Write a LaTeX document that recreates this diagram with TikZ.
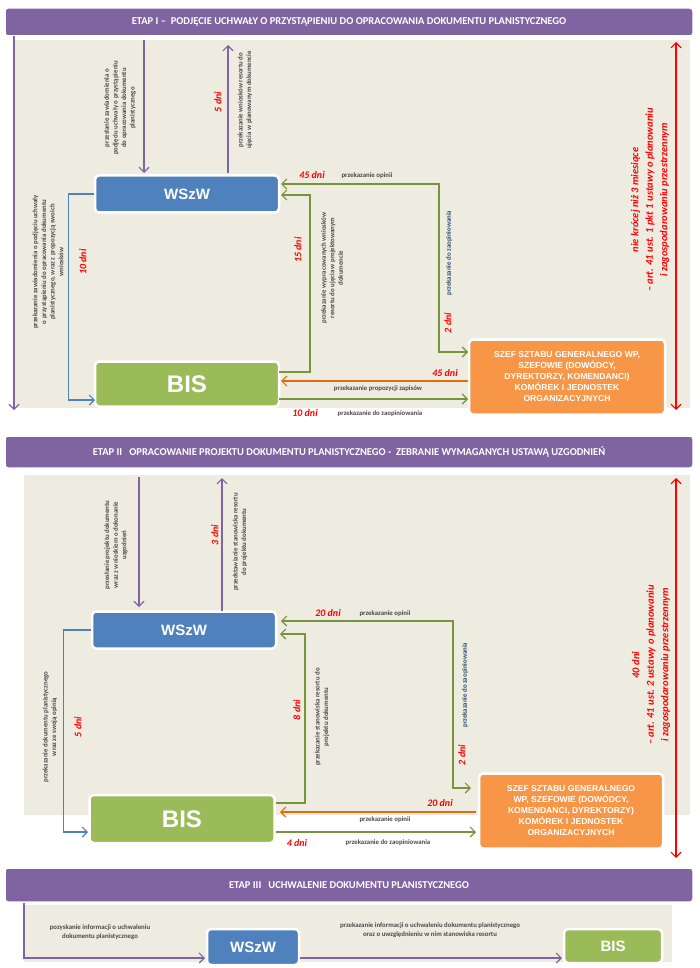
\documentclass[tikz,border=0pt]{standalone}
\usepackage{fontspec}
\setmainfont{Carlito}
\newfontfamily\arialf{Liberation Sans}
\usetikzlibrary{arrows.meta}
\definecolor{purp}{HTML}{8064A2}
\definecolor{blu}{HTML}{4F81BD}
\definecolor{grn}{HTML}{9BBB59}
\definecolor{agrn}{HTML}{77933C}
\definecolor{org}{HTML}{F79646}
\definecolor{aorg}{HTML}{E36C09}
\definecolor{bg}{HTML}{EEEBE0}
\definecolor{txt}{HTML}{4A4A4A}
\tikzset{
 banner/.style={fill=purp,draw=white,line width=1.5pt,rounded corners=3pt,text=white,font=\bfseries\fontsize{10.5}{12}\selectfont,inner sep=0pt},
 boxn/.style={draw=white,line width=2.5pt,rounded corners=4pt,text=white,font=\arialf\bfseries,inner sep=0pt},
 lbl/.style={text=txt,font=\bfseries\fontsize{6.8}{8.6}\selectfont,align=center,inner sep=1pt},
 days/.style={text=red,font=\bfseries\itshape\fontsize{10}{11}\selectfont,inner sep=1pt},
 redt/.style={text=red,font=\bfseries\itshape\fontsize{10.5}{14.5}\selectfont,align=center,rotate=90},
 arr/.style={-{Straight Barb[length=5pt,width=10pt]},line width=1.1pt},
 darr/.style={{Straight Barb[length=5pt,width=10pt]}-{Straight Barb[length=5pt,width=10pt]},line width=1.1pt},
 wbox/.style={boxn,fill=blu,font=\arialf\bfseries\fontsize{15}{16}\selectfont},
 bbox/.style={boxn,fill=grn,font=\arialf\bfseries\fontsize{24}{26}\selectfont},
 obox/.style={boxn,fill=org,align=center,font=\arialf\bfseries\fontsize{8.6}{11}\selectfont},
}
\begin{document}
\begin{tikzpicture}[x=1pt,y=-1pt]
\useasboundingbox (0,0) rectangle (700,968);
\fill[white] (0,0) rectangle (700,968);
% panels
\fill[bg] (14,40) rectangle (690,408);
\fill[bg] (24,475) rectangle (690,815);
\fill[bg] (24,905) rectangle (672,962);
% banners
\node[banner,minimum width=688,minimum height=28] (b1) at (349,22) {ETAP I –\ \ PODJĘCIE UCHWAŁY O PRZYSTĄPIENIU DO OPRACOWANIA DOKUMENTU PLANISTYCZNEGO};
\node[banner,minimum width=688,minimum height=32] (b2) at (349,452) {ETAP II\ \ \ OPRACOWANIE PROJEKTU DOKUMENTU PLANISTYCZNEGO -\ \ ZEBRANIE WYMAGANYCH USTAWĄ UZGODNIEŃ};
\node[banner,minimum width=688,minimum height=34] (b3) at (349,885) {ETAP III\ \ \ UCHWALENIE DOKUMENTU PLANISTYCZNEGO};
% ---------- stage I
\node[wbox,minimum width=184,minimum height=37] (w1) at (187,194) {WSzW};
\node[bbox,minimum width=184,minimum height=45] (s1) at (187,384) {BIS};
\node[obox,minimum width=196,minimum height=75] (o1) at (567,377) {SZEF SZTABU GENERALNEGO WP,\\SZEFOWIE (DOWÓDCY,\\DYREKTORZY, KOMENDANCI)\\KOMÓREK I JEDNOSTEK\\ORGANIZACYJNYCH};
\coordinate (t1) at (14,36); \coordinate (t1e) at (14,410);
\draw[arr,purp] (t1) -- (t1e);
\coordinate (pa) at (144,40); \coordinate (pb) at (228,45);
\draw[arr,purp] (pa) -- (144,173);
\draw[arr,purp] (228,173) -- (pb);
\draw[arr,blu] (w1.west) -- ++(-25,0) |- (95,400);
\draw[darr,agrn] (281,184) -- (439,184) |- (468,352);
\draw[arr,agrn] (279,372) -- (310,372) |- (281,195);
\draw[arr,aorg] (468,381) -- (281,381);
\draw[arr,agrn] (279,399) -- (468,399);
\draw[darr,red] (676,42) -- (676,410);
% labels I
\node[lbl,rotate=90] at (120,108) {przesłanie zawiadomienia o\\podjęciu uchwały o przystąpieniu\\do opracowania dokumentu\\planistycznego};
\node[days,rotate=90] at (218,102) {5 dni};
\node[lbl,rotate=90] at (245,100) {przekazanie wniosków resortu do\\ujęcia w planowanym dokumencie};
\node[lbl,rotate=90] at (48,262) {przekazanie zawiadomienia o podjęciu uchwały\\o przystąpieniu do opracowania dokumentu\\planistycznego, wraz z propozycją swoich\\wniosków};
\node[days,rotate=90] at (83,262) {10 dni};
\node[days,rotate=90] at (298,250) {15 dni};
\node[lbl,rotate=90] at (332,268) {przekazanie wypracowanych wniosków\\resortu do ujęcia w projektowanym\\dokumencie};
\node[days,rotate=90] at (448,323) {2 dni};
\node[lbl,rotate=90,text=blu!60!black] at (449,253) {przekazanie do zaopiniowania};
\node[days] at (312,175) {45 dni};
\node[lbl] at (367,176) {przekazanie opinii};
\node[days] at (445,373) {45 dni};
\node[lbl] at (378,389) {przekazanie propozycji zapisów};
\node[days] at (305,413) {10 dni};
\node[lbl] at (380,414) {przekazanie do zaopiniowania};
\node[redt] at (650,200) {nie krócej niż 3 miesiące\\– art. 41 ust. 1 pkt 1 ustawy o planowaniu\\i zagospodarowaniu przestrzennym};
% ---------- stage II
\node[wbox,minimum width=184,minimum height=37] (w2) at (184,630) {WSzW};
\node[bbox,minimum width=185,minimum height=48] (s2) at (182,819) {BIS};
\node[obox,minimum width=184,minimum height=75] (o2) at (571,811) {SZEF SZTABU GENERALNEGO\\WP, SZEFOWIE (DOWÓDCY,\\KOMENDANCI, DYREKTORZY)\\KOMÓREK I JEDNOSTEK\\ORGANIZACYJNYCH};
\draw[arr,purp] (139,477) -- (139,607);
\coordinate (pc) at (222,478);
\draw[arr,purp] (222,611) -- (pc);
\draw[arr,blu] (w2.west) -- ++(-27,0) |- (88,832);
\draw[darr,agrn] (281,621) -- (453,621) |- (471,788);
\draw[arr,agrn] (276,803) -- (305,803) |- (280,634);
\draw[arr,aorg] (476,812) -- (280,812);
\draw[arr,agrn] (276,832) -- (476,832);
\draw[darr,red] (676,478) -- (676,858);
\node[lbl,rotate=90] at (116,545) {przesłanie projektu dokumentu\\wraz z wnioskiem o dokonanie\\uzgodnień};
\node[days,rotate=90] at (215,535) {3 dni};
\node[lbl,rotate=90] at (240,542) {przedstawianie stanowiska resortu\\do projektu dokumentu};
\node[lbl,rotate=90] at (50,727) {przekazanie dokumentu planistycznego\\wraz ze swoją opinią};
\node[days,rotate=90] at (78,727) {5 dni};
\node[days,rotate=90] at (297,710) {8 dni};
\node[lbl,rotate=90] at (322,717) {przekazanie stanowiska resortu do\\projektu dokumentu};
\node[days,rotate=90] at (462,755) {2 dni};
\node[lbl,rotate=90,text=blu!60!black] at (465,685) {przekazanie do zaopiniowania};
\node[days] at (328,613) {20 dni};
\node[lbl] at (385,614) {przekazanie opinii};
\node[days] at (440,803) {20 dni};
\node[lbl] at (385,820) {przekazanie opinii};
\node[days] at (297,843) {4 dni};
\node[lbl] at (388,843) {przekazanie do zaopiniowania};
\node[redt] at (651,665) {40 dni\\– art. 41 ust. 2 ustawy o planowaniu\\i zagospodarowaniu przestrzennym};
% ---------- stage III
\node[wbox,minimum width=92,minimum height=36] (w3) at (253,947) {WSzW};
\node[boxn,fill=grn,minimum width=98,minimum height=34,font=\arialf\bfseries\fontsize{15}{16}\selectfont] (s3) at (613,946) {BIS};
\coordinate (c3) at (24,903);
\draw[arr,purp] (c3) -- (24,958) -- (205,958);
\draw[arr,purp] (300,958) -- (562,958);
\node[lbl] at (100,932) {pozyskanie informacji o uchwaleniu\\dokumentu planistycznego};
\node[lbl] at (430,930) {przekazanie informacji o uchwaleniu dokumentu planistycznego\\oraz o uwzględnieniu w nim stanowiska resortu};
\end{tikzpicture}
\end{document}
